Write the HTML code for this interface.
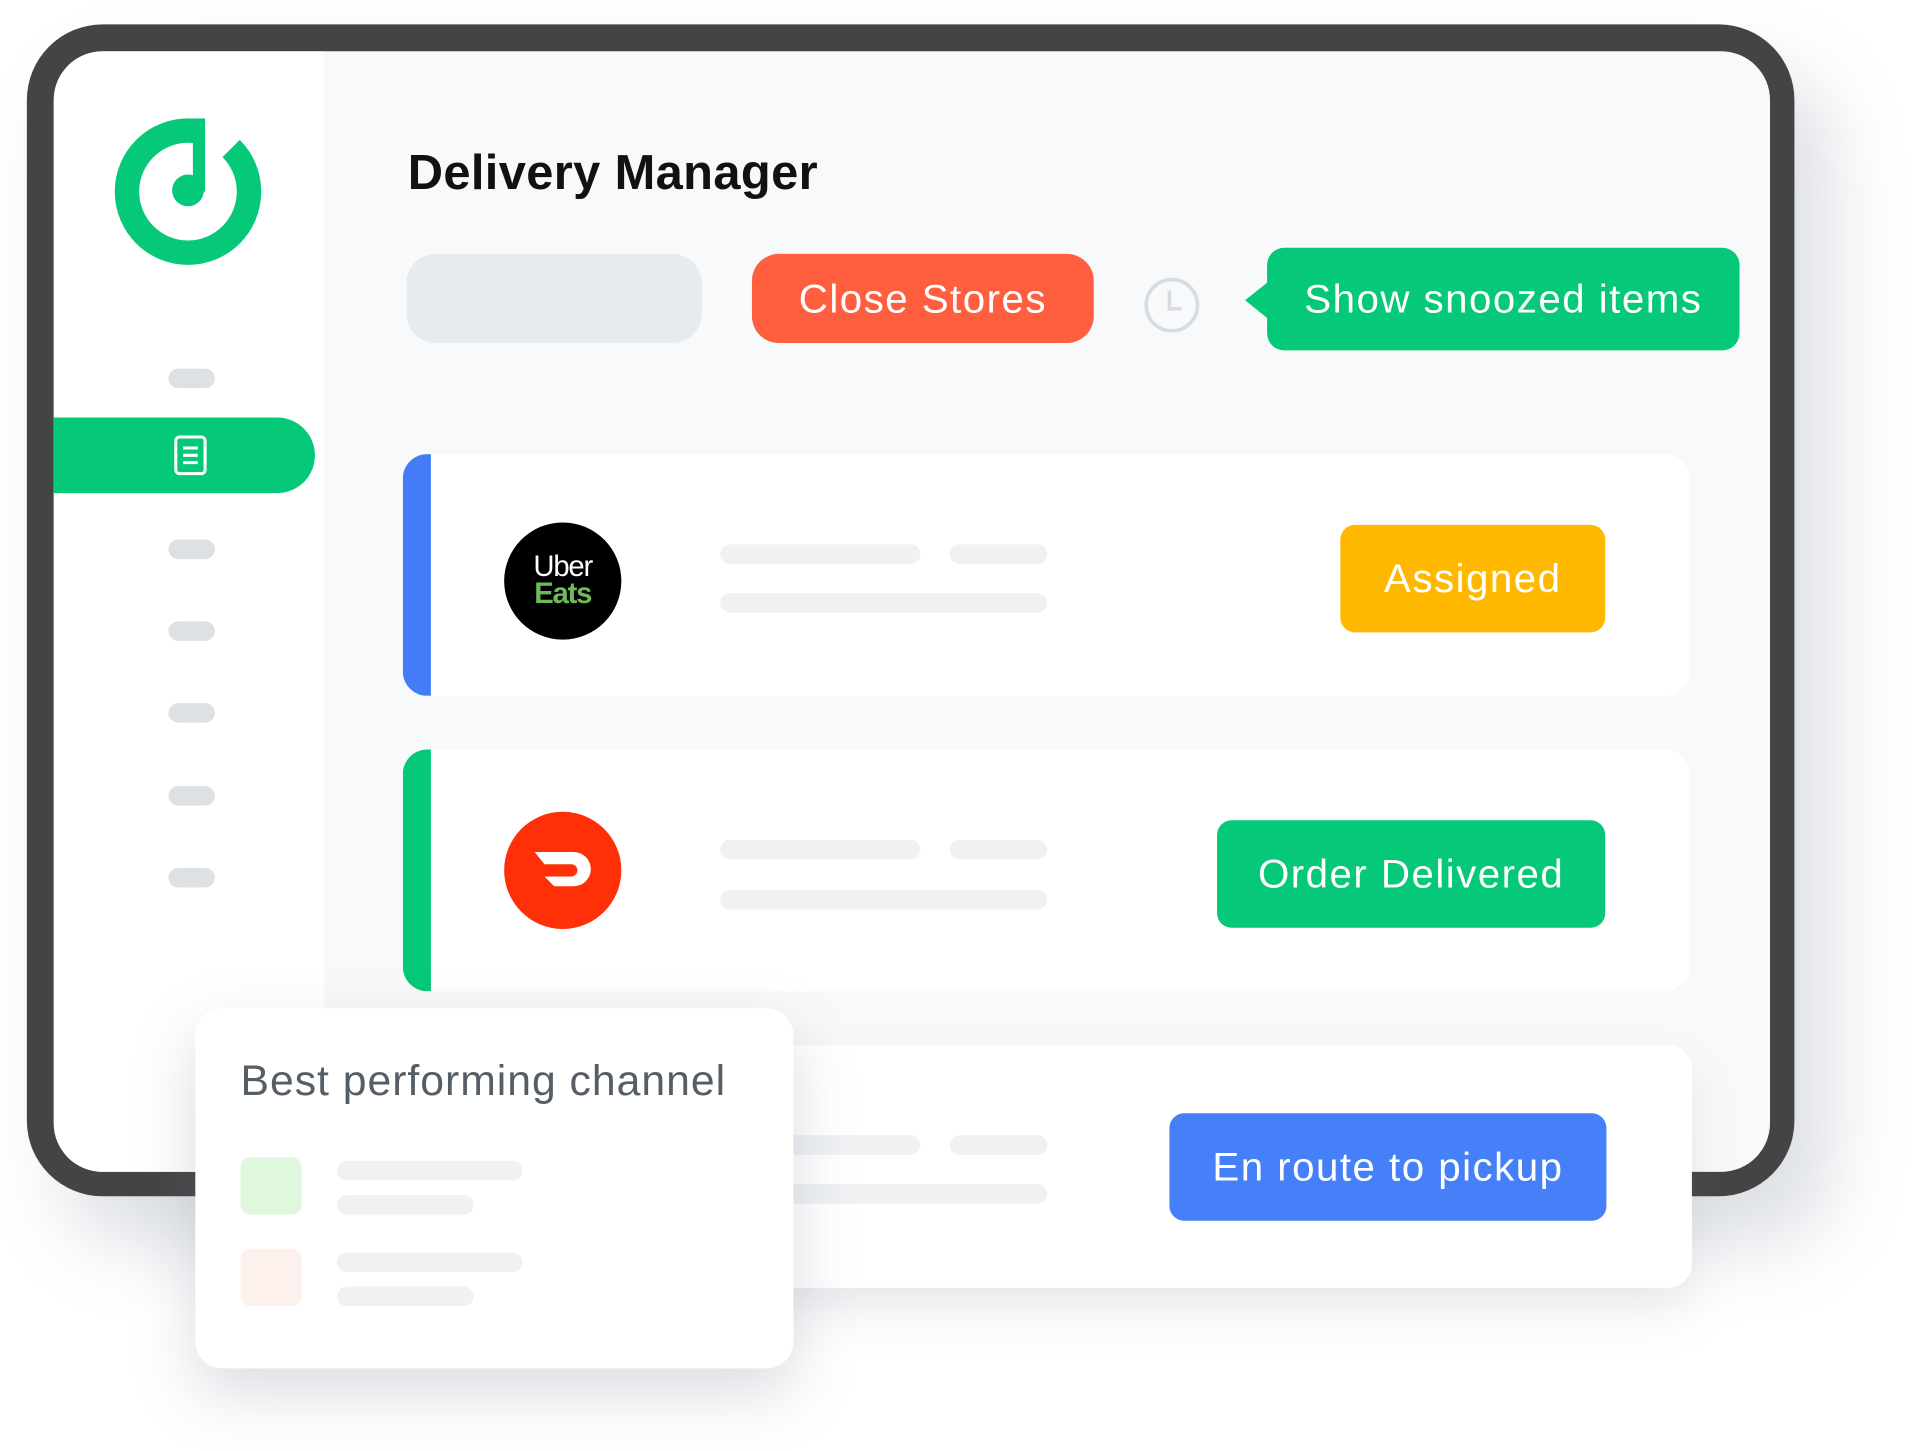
<!DOCTYPE html>
<html><head><style>
html,body{margin:0;padding:0;background:#fff;width:1914px;height:1451px;overflow:hidden;font-family:"Liberation Sans",sans-serif}
#w{position:absolute;left:0;top:0;width:1568px;height:1189px;transform:scale(1.2207);transform-origin:0 0}
.a{position:absolute}
.pill{position:absolute;left:138px;width:38px;height:16px;border-radius:8px;background:#dde1e4}
.bar{position:absolute;height:16px;border-radius:8px;background:#eff1f3}
.btn{position:absolute;color:#fff;font-size:33px;letter-spacing:1.2px;display:flex;align-items:center;justify-content:center;border-radius:12px}
.card{position:absolute;background:#fff;border-radius:20px;overflow:hidden}
</style></head><body><div id="w">
<div class="a" style="left:22px;top:20px;width:1448px;height:960px;border-radius:62px;background:#444;box-shadow:30px 40px 60px rgba(120,130,150,0.25)"></div>
<div class="a" style="left:44px;top:42px;width:1406px;height:918px;border-radius:40px;background:#f8f9fa;overflow:hidden">
  <div class="a" style="left:0;top:0;width:222px;height:918px;background:#fff"></div>
</div>
<svg class="a" style="left:84px;top:87px" width="140" height="140" viewBox="0 0 140 140">
  <circle cx="70" cy="70" r="50" fill="none" stroke="#05c878" stroke-width="20" stroke-dasharray="284 30" transform="rotate(-45 70 70)"/>
  <rect x="74" y="10" width="10" height="60" fill="#05c878"/>
  <circle cx="70" cy="69" r="13" fill="#05c878"/>
</svg>
<div class="pill" style="top:302px"></div>
<div class="a" style="left:44px;top:342px;width:214px;height:62px;background:#05c878;border-radius:0 32px 32px 0"></div>
<svg class="a" style="left:142px;top:356px" width="28" height="34"><rect x="2" y="2" width="24" height="30" rx="3" fill="none" stroke="#fff" stroke-width="2.5"/><line x1="8" y1="11" x2="20" y2="11" stroke="#fff" stroke-width="2.5"/><line x1="8" y1="17" x2="20" y2="17" stroke="#fff" stroke-width="2.5"/><line x1="8" y1="23" x2="20" y2="23" stroke="#fff" stroke-width="2.5"/></svg>
<div class="pill" style="top:442px"></div>
<div class="pill" style="top:509px"></div>
<div class="pill" style="top:576px"></div>
<div class="pill" style="top:644px"></div>
<div class="pill" style="top:711px"></div>
<div class="a" style="left:334px;top:120px;font-size:40px;font-weight:bold;color:#111;letter-spacing:0.3px">Delivery Manager</div>
<div class="a" style="left:333px;top:208px;width:242px;height:73px;border-radius:24px;background:#e8ebee"></div>
<div class="btn" style="left:616px;top:208px;width:280px;height:73px;border-radius:22px;background:#ff5f3f">Close Stores</div>
<svg class="a" style="left:936px;top:226px" width="48" height="48"><circle cx="24" cy="24" r="21" fill="none" stroke="#d8dcdf" stroke-width="3"/><path d="M22 12 V27 H32" fill="none" stroke="#d8dcdf" stroke-width="3"/></svg>
<svg class="a" style="left:1018px;top:228px" width="24" height="36"><path d="M22 2 L2 18 L22 34 Z" fill="#05c878"/></svg>
<div class="btn" style="left:1038px;top:203px;width:387px;height:84px;border-radius:14px;background:#05c878">Show snoozed items</div>

<div class="card" style="left:330px;top:372px;width:1054px;height:198px"><div class="a" style="left:0;top:0;width:23px;height:198px;background:#447cf7"></div></div>
<div class="a" style="left:413px;top:428px;width:96px;height:96px;border-radius:50%;background:#000;color:#fff;font-size:24px;line-height:22px;text-align:center;display:flex;flex-direction:column;justify-content:center;letter-spacing:-1px;font-weight:bold"><span style="font-weight:normal">Uber</span><span style="color:#6fba5a">Eats</span></div>
<div class="bar" style="left:590px;top:446px;width:164px"></div><div class="bar" style="left:778px;top:446px;width:80px"></div><div class="bar" style="left:590px;top:486px;width:268px"></div>
<div class="btn" style="left:1098px;top:430px;width:217px;height:88px;background:#ffb800">Assigned</div>

<div class="card" style="left:330px;top:614px;width:1054px;height:198px"><div class="a" style="left:0;top:0;width:23px;height:198px;background:#05c878"></div></div>
<div class="a" style="left:413px;top:665px;width:96px;height:96px;border-radius:50%;background:#ff3008"></div>
<svg class="a" style="left:434px;top:690px" width="56" height="46"><path d="M4 8 H36 A14 14 0 0 1 36 36 H20 L12 28 H34 A5 5 0 0 0 34 18 H12 Z" fill="#fff"/></svg>
<div class="bar" style="left:590px;top:688px;width:164px"></div><div class="bar" style="left:778px;top:688px;width:80px"></div><div class="bar" style="left:590px;top:729px;width:268px"></div>
<div class="btn" style="left:997px;top:672px;width:318px;height:88px;background:#05c878">Order Delivered</div>

<div class="card" style="left:560px;top:856px;width:826px;height:199px;box-shadow:0 20px 40px rgba(120,130,150,0.15)"></div>
<div class="bar" style="left:640px;top:930px;width:114px"></div><div class="bar" style="left:778px;top:930px;width:80px"></div><div class="bar" style="left:640px;top:970px;width:218px"></div>
<div class="btn" style="left:958px;top:912px;width:358px;height:88px;background:#4580f8">En route to pickup</div>

<div class="a" style="left:160px;top:826px;width:490px;height:295px;border-radius:22px;background:#fff;box-shadow:0 20px 50px rgba(110,120,140,0.25)"></div>
<div class="a" style="left:197px;top:866px;font-size:35px;letter-spacing:0.8px;color:#555e66">Best performing channel</div>
<div class="a" style="left:197px;top:948px;width:50px;height:47px;border-radius:8px;background:#dff7dc"></div>
<div class="a" style="left:197px;top:1023px;width:50px;height:47px;border-radius:8px;background:#fdf1ed"></div>
<div class="bar" style="left:276px;top:951px;width:152px"></div><div class="bar" style="left:276px;top:979px;width:112px"></div>
<div class="bar" style="left:276px;top:1026px;width:152px"></div><div class="bar" style="left:276px;top:1054px;width:112px"></div>
</div></body></html>
